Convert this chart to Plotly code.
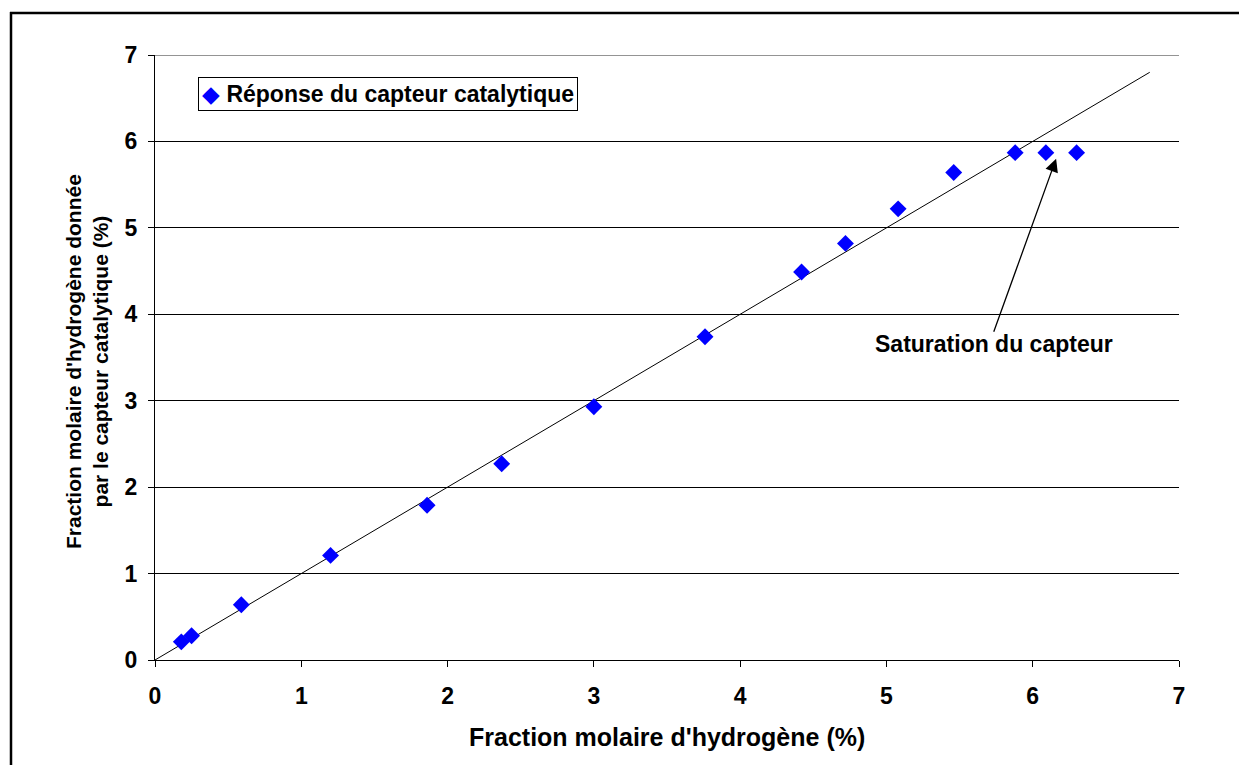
import plotly.graph_objects as go

x_true = [0.18, 0.25, 0.59, 1.20, 1.86, 2.37, 3.00, 3.76, 4.42, 4.72, 5.08, 5.46, 5.88, 6.09, 6.30]
y_sensor = [0.21, 0.28, 0.64, 1.21, 1.79, 2.27, 2.93, 3.74, 4.49, 4.82, 5.22, 5.64, 5.87, 5.87, 5.87]
ref_x = [0, 6.8]
ref_y = [0, 6.8]
ticks = [0, 1, 2, 3, 4, 5, 6, 7]

FONT = "Arial, Liberation Sans, sans-serif"
W, H = 1239, 765
L, R, T, B = 155, 60, 55, 105
pw, ph = W - L - R, H - T - B

def px(xp):
    return (xp - L) / pw

def py(yp):
    return (H - B - yp) / ph

fig = go.Figure()
fig.add_trace(go.Scatter(x=ref_x, y=ref_y, mode="lines",
                         line=dict(color="black", width=1), showlegend=False, hoverinfo="skip"))
fig.add_trace(go.Scatter(x=x_true, y=y_sensor, mode="markers",
                         name="Réponse du capteur catalytique", showlegend=False,
                         marker=dict(symbol="diamond", size=13, color="#0000FF",
                                     line=dict(width=0))))

# legend box (as annotation)
fig.add_annotation(x=px(198), y=py(94), xref="paper", yref="paper",
                   xanchor="left", yanchor="middle", showarrow=False,
                   text="<span style='color:#0000FF'>◆</span> <b>Réponse du capteur catalytique</b>",
                   font=dict(family=FONT, size=23, color="black"),
                   bordercolor="black", borderwidth=1, borderpad=3, bgcolor="white")

fig.add_annotation(x=6.16, y=5.80, ax=5.73, ay=3.78, axref="x", ayref="y",
                   xref="x", yref="y", text="", showarrow=True,
                   arrowhead=2, arrowsize=2, arrowwidth=1.3, arrowcolor="black")
fig.add_annotation(x=px(994), y=py(344), xref="paper", yref="paper",
                   xanchor="center", yanchor="middle",
                   text="<b>Saturation du capteur</b>",
                   showarrow=False, font=dict(family=FONT, size=23, color="black"))

# axis titles
fig.add_annotation(x=px(667), y=py(737), xref="paper", yref="paper",
                   xanchor="center", yanchor="middle",
                   text="<b>Fraction molaire d'hydrogène (%)</b>", showarrow=False,
                   font=dict(family=FONT, size=25, color="black"))
fig.add_annotation(x=px(60), y=py(362), xref="paper", yref="paper",
                   text="<b>Fraction molaire d'hydrogène donnée<br>par le capteur catalytique (%)</b>",
                   showarrow=False, textangle=-90,
                   font=dict(family=FONT, size=21, color="black"))

# outer border (left and top visible)
fig.add_shape(type="line", xref="paper", yref="paper",
              x0=px(11), x1=px(11), y0=py(12), y1=py(780),
              line=dict(color="black", width=2.5), layer="above")
fig.add_shape(type="line", xref="paper", yref="paper",
              x0=px(10), x1=px(1260), y0=py(13), y1=py(13),
              line=dict(color="black", width=2.5), layer="above")
# top plot border (gray)
fig.add_shape(type="line", xref="paper", yref="y", x0=0, x1=1, y0=7, y1=7,
              line=dict(color="#707070", width=1.5))

fig.update_layout(
    width=W, height=H,
    margin=dict(l=L, r=R, t=T, b=B),
    paper_bgcolor="white", plot_bgcolor="white",
    font=dict(family=FONT, size=22, color="black"),
    showlegend=False,
)
fig.update_xaxes(range=[0, 7], tickvals=ticks, ticktext=[f"<b>{t}</b>" for t in ticks],
                 showgrid=False, zeroline=False, showline=True, linecolor="black", linewidth=1,
                 ticks="outside", ticklen=6, tickcolor="black", ticklabelstandoff=9,
                 tickfont=dict(family=FONT, size=23))
fig.update_yaxes(range=[0, 7], tickvals=ticks, ticktext=[f"<b>{t}</b>" for t in ticks],
                 showgrid=True, gridcolor="black", gridwidth=1, zeroline=False,
                 showline=True, linecolor="black", linewidth=1,
                 ticks="outside", ticklen=6, tickcolor="black", ticklabelstandoff=6,
                 tickfont=dict(family=FONT, size=23))

fig.write_html("out.html", config={"displayModeBar": False},
               post_script="document.body.style.margin='0';document.body.style.overflow='hidden';")
